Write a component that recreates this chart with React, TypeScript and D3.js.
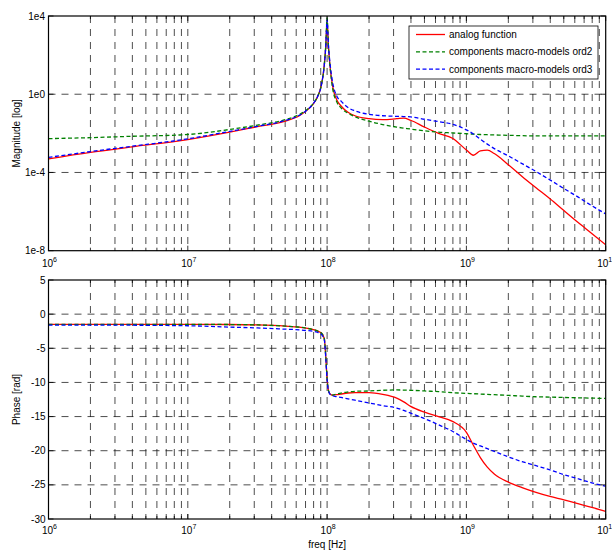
import React from 'react';
import * as d3 from 'd3';

// frequency grid [Hz]
const freq = [
  1e6, 2e6, 3.98e6, 1e7, 2e7, 3.16e7, 5.01e7, 6.31e7, 7.08e7, 7.94e7, 8.51e7, 9.12e7, 9.55e7, 9.77e7,
  1e8, 1.023e8, 1.047e8, 1.096e8, 1.175e8, 1.259e8, 1.413e8, 1.585e8, 2e8, 2.51e8, 3.16e8, 3.55e8, 3.98e8,
  5.01e8, 6.31e8, 7.94e8, 1e9, 1.122e9, 1.259e9, 1.413e9, 1.585e9, 2e9, 2.51e9, 3.16e9, 3.98e9, 5.01e9,
  6.31e9, 7.94e9, 1e10,
];

// magnitude
const magAnalog = [
  5.0e-4, 1.07e-3, 2.04e-3, 4.79e-3, 1.15e-2, 2.19e-2, 4.17e-2, 7.94e-2, 0.141, 0.316, 0.708, 3.16, 31.6, 251,
  5012, 251, 31.6, 2.51, 0.501, 0.251, 0.12, 0.0794, 0.0562, 0.0501, 0.0562, 0.0603, 0.0468,
  0.0209, 0.01, 5.62e-3, 1.41e-3, 7.59e-4, 1.26e-3, 1.38e-3, 9.3e-4, 2.51e-4, 6.31e-5, 1.66e-5, 4.47e-6, 1.12e-6,
  2.82e-7, 7.59e-8, 2.0e-8,
];
const magOrd2 = [
  5.37e-3, 6.03e-3, 7.08e-3, 8.71e-3, 1.58e-2, 2.63e-2, 5.01e-2, 9.12e-2, 0.151, 0.331, 0.724, 3.24, 33.1, 263,
  7943, 263, 31.6, 2.0, 0.398, 0.2, 0.107, 0.0708, 0.0417, 0.0282, 0.0209, 0.0186, 0.0166,
  0.0135, 0.0115, 0.0105, 9.55e-3, 9.12e-3, 8.71e-3, 8.51e-3, 8.32e-3, 7.94e-3, 7.59e-3, 7.41e-3, 7.41e-3, 7.41e-3,
  7.41e-3, 7.41e-3, 7.41e-3,
];
const magOrd3 = [
  5.89e-4, 1.17e-3, 2.19e-3, 5.25e-3, 1.26e-2, 2.29e-2, 4.57e-2, 8.32e-2, 0.145, 0.324, 0.72, 3.2, 32, 260,
  6310, 300, 44.7, 3.98, 0.794, 0.447, 0.209, 0.141, 0.0933, 0.0794, 0.0741, 0.0724, 0.0692,
  0.0525, 0.0398, 0.0295, 0.0151, 9.33e-3, 5.01e-3, 2.82e-3, 1.66e-3, 7.08e-4, 2.82e-4, 1.12e-4, 4.17e-5, 1.51e-5,
  5.62e-6, 2.0e-6, 7.59e-7,
];

// phase [rad]
const phAnalog = [
  -1.5, -1.5, -1.5, -1.5, -1.52, -1.58, -1.75, -1.9, -2.05, -2.25, -2.45, -2.8, -3.6, -6.0,
  -9.5, -11.2, -11.65, -11.85, -11.8, -11.7, -11.55, -11.5, -11.5, -11.75, -12.3, -12.85, -13.5,
  -14.35, -15.0, -15.7, -17.3, -19.2, -21.0, -22.4, -23.4, -24.6, -25.4, -26.1, -26.7, -27.2,
  -27.75, -28.3, -28.9,
];
const phOrd2 = [
  -1.5, -1.5, -1.5, -1.5, -1.52, -1.58, -1.75, -1.9, -2.05, -2.25, -2.45, -2.8, -3.6, -6.0,
  -9.5, -11.2, -11.65, -11.85, -11.7, -11.55, -11.4, -11.3, -11.25, -11.15, -11.1, -11.12, -11.15,
  -11.25, -11.35, -11.5, -11.6, -11.65, -11.7, -11.75, -11.8, -11.9, -12.0, -12.1, -12.15, -12.2,
  -12.25, -12.3, -12.35,
];
const phOrd3 = [
  -1.6, -1.6, -1.62, -1.7, -1.9, -2.02, -2.2, -2.3, -2.4, -2.5, -2.65, -3.0, -3.8, -6.2,
  -9.6, -11.2, -11.7, -11.95, -12.1, -12.2, -12.4, -12.6, -13.0, -13.4, -13.75, -14.1, -14.5,
  -15.3, -16.2, -17.15, -18.35, -18.9, -19.3, -19.7, -20.1, -20.9, -21.6, -22.2, -22.8, -23.5,
  -24.1, -24.7, -25.2,
];

const magTicks = [1e4, 1, 1e-4, 1e-8];
const magTickLabels = ['1e4', '1e0', '1e-4', '1e-8'];
const phTicks = [5, 0, -5, -10, -15, -20, -25, -30];
const decades = [6, 7, 8, 9, 10];

const seriesNames = ['analog function', 'components macro-models ord2', 'components macro-models ord3'];
const seriesColors = ['#ff0000', '#008000', '#0000ff'];
const seriesDash = [null, '4,2.5', '4,2.5'];

const FONT = '"Liberation Sans", Arial, Helvetica, sans-serif';

export default function App() {
  const W = 612, H = 550;
  const xL = 48.5, xR = 605.7;
  const x = d3.scaleLog().domain([1e6, 1e10]).range([xL, xR]);
  const m = { top: 16, bottom: 250.7 };
  const p = { top: 280, bottom: 519 };
  const yMag = d3.scaleLog().domain([1e-8, 1e4]).range([m.bottom, m.top]);
  const yPh = d3.scaleLinear().domain([-30, 5]).range([p.bottom, p.top]);

  const majors = decades.map((d) => Math.pow(10, d));
  const minors: number[] = [];
  for (let d = 6; d < 10; d++) for (let k = 2; k <= 9; k++) minors.push(k * Math.pow(10, d));

  const lineMag = (vals: number[]) =>
    d3.line<number>().x((_, i) => x(freq[i])).y((v) => yMag(v)).curve(d3.curveMonotoneX)(vals) || '';
  const linePh = (vals: number[]) =>
    d3.line<number>().x((_, i) => x(freq[i])).y((v) => yPh(v)).curve(d3.curveMonotoneX)(vals) || '';

  const magSeries = [magAnalog, magOrd2, magOrd3];
  const phSeries = [phAnalog, phOrd2, phOrd3];

  const gridStyle = { stroke: '#111', strokeWidth: 0.75, strokeDasharray: '7,6' };

  const xGrid = (top: number, bottom: number) => (
    <g>
      {[...minors, ...majors.slice(1, -1)].map((f, i) => (
        <line key={i} x1={x(f)} x2={x(f)} y1={top} y2={bottom} {...gridStyle} />
      ))}
    </g>
  );

  const xTicks = (top: number, bottom: number, labY: number) => (
    <g>
      {majors.map((f, i) => (
        <g key={'M' + i}>
          <line x1={x(f)} x2={x(f)} y1={bottom} y2={bottom - 5} stroke="#000" strokeWidth={0.8} />
          <line x1={x(f)} x2={x(f)} y1={top} y2={top + 5} stroke="#000" strokeWidth={0.8} />
          <text x={x(f) + 1} y={labY} textAnchor="middle" fontSize={10} fontFamily={FONT}>
            <tspan>10</tspan>
            <tspan dy={-5} fontSize={7}>{decades[i]}</tspan>
          </text>
        </g>
      ))}
      {minors.map((f, i) => (
        <g key={'m' + i}>
          <line x1={x(f)} x2={x(f)} y1={bottom} y2={bottom - 3} stroke="#000" strokeWidth={0.8} />
          <line x1={x(f)} x2={x(f)} y1={top} y2={top + 3} stroke="#000" strokeWidth={0.8} />
        </g>
      ))}
    </g>
  );

  return (
    <svg width={W} height={H} style={{ position: 'absolute', left: 0, top: 0, background: '#fff' }}>
      <defs>
        <clipPath id="clipMag">
          <rect x={xL} y={m.top} width={xR - xL} height={m.bottom - m.top} />
        </clipPath>
        <clipPath id="clipPh">
          <rect x={xL} y={p.top} width={xR - xL} height={p.bottom - p.top} />
        </clipPath>
      </defs>
      <rect x={0} y={0} width={W} height={H} fill="#fff" />

      {/* ---------- Magnitude panel ---------- */}
      {xGrid(m.top, m.bottom)}
      {magTicks.slice(1, -1).map((v, i) => (
        <line key={i} x1={xL} x2={xR} y1={yMag(v)} y2={yMag(v)} {...gridStyle} />
      ))}
      <g clipPath="url(#clipMag)">
        {magSeries.map((s, i) => (
          <path key={i} d={lineMag(s)} fill="none" stroke={seriesColors[i]} strokeWidth={1.3}
            strokeDasharray={seriesDash[i] || undefined} />
        ))}
      </g>
      <rect x={xL} y={m.top} width={xR - xL} height={m.bottom - m.top} fill="none" stroke="#000" strokeWidth={1.2} />
      {xTicks(m.top, m.bottom, 266.5)}
      {magTicks.map((v, i) => (
        <g key={i}>
          <line x1={xL} x2={xL + 5} y1={yMag(v)} y2={yMag(v)} stroke="#000" strokeWidth={0.8} />
          <line x1={xR} x2={xR - 5} y1={yMag(v)} y2={yMag(v)} stroke="#000" strokeWidth={0.8} />
          <text x={45} y={yMag(v) + 3.5} textAnchor="end" fontSize={10} fontFamily={FONT}>
            {magTickLabels[i]}
          </text>
        </g>
      ))}
      <text transform={`translate(19.5,${(m.top + m.bottom) / 2}) rotate(-90)`} textAnchor="middle"
        fontSize={10} fontFamily={FONT}>Magnitude [log]</text>

      {/* legend */}
      <g>
        <rect x={409} y={26} width={189} height={53} fill="#fff" stroke="#000" strokeWidth={0.8} />
        {seriesNames.map((n, i) => (
          <g key={i}>
            <line x1={416} x2={445} y1={34.5 + i * 17.3} y2={34.5 + i * 17.3} stroke={seriesColors[i]}
              strokeWidth={1.3} strokeDasharray={seriesDash[i] || undefined} />
            <text x={449} y={38 + i * 17.3} fontSize={10} fontFamily={FONT}>{n}</text>
          </g>
        ))}
      </g>

      {/* ---------- Phase panel ---------- */}
      {xGrid(p.top, p.bottom)}
      {phTicks.slice(1, -1).map((v, i) => (
        <line key={i} x1={xL} x2={xR} y1={yPh(v)} y2={yPh(v)} {...gridStyle} />
      ))}
      <g clipPath="url(#clipPh)">
        {phSeries.map((s, i) => (
          <path key={i} d={linePh(s)} fill="none" stroke={seriesColors[i]} strokeWidth={1.3}
            strokeDasharray={seriesDash[i] || undefined} />
        ))}
      </g>
      <rect x={xL} y={p.top} width={xR - xL} height={p.bottom - p.top} fill="none" stroke="#000" strokeWidth={1.2} />
      {xTicks(p.top, p.bottom, 534)}
      {phTicks.map((v, i) => (
        <g key={i}>
          <line x1={xL} x2={xL + 5} y1={yPh(v)} y2={yPh(v)} stroke="#000" strokeWidth={0.8} />
          <line x1={xR} x2={xR - 5} y1={yPh(v)} y2={yPh(v)} stroke="#000" strokeWidth={0.8} />
          <text x={45.5} y={yPh(v) + 3.5} textAnchor="end" fontSize={10} fontFamily={FONT}>{v}</text>
        </g>
      ))}
      <text transform={`translate(19.5,${(p.top + p.bottom) / 2}) rotate(-90)`} textAnchor="middle"
        fontSize={10} fontFamily={FONT}>Phase [rad]</text>
      <text x={(xL + xR) / 2} y={548} textAnchor="middle" fontSize={10} fontFamily={FONT}>freq [Hz]</text>
    </svg>
  );
}
